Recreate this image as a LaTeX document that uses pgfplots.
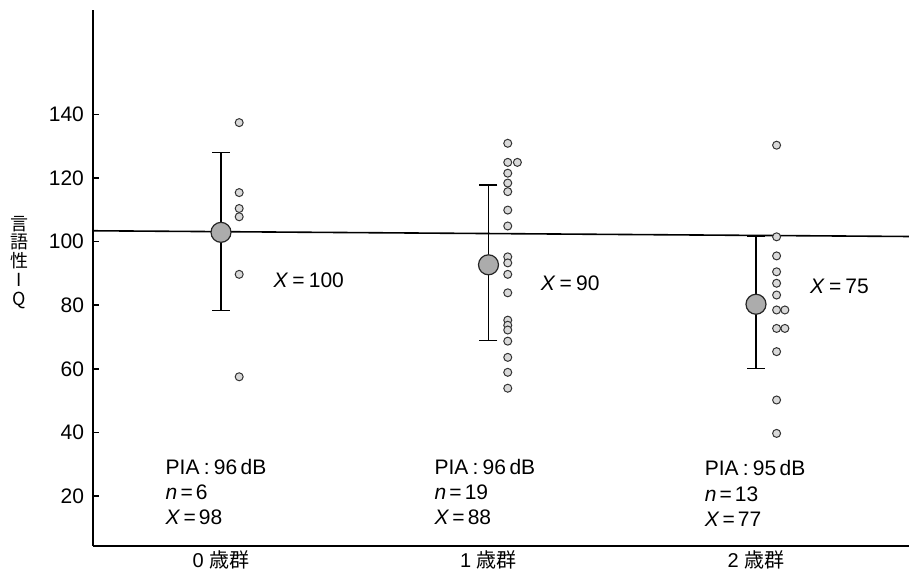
\documentclass[border=0pt]{standalone}
\usepackage{fontspec}
\setmainfont{Liberation Sans}
\newfontfamily\cjk{Noto Sans CJK JP}
\usepackage{pgfplots}
\pgfplotsset{compat=1.18}
\begin{document}
\begin{tikzpicture}[x=1pt,y=1pt]
\begin{axis}[
  at={(0,0)}, anchor=south west,
  scale only axis, width=408pt, height=268pt,
  xmin=-0.4785, xmax=2.572, ymin=4.3, ymax=172.8,
  axis x line=bottom, axis y line=left,
  axis line style={line width=1pt, -},
  /pgf/number format/assume math mode=true,
  ytick={20,40,60,80,100,120,140},
  yticklabels={20,40,60,80,100,120,140},
  tick align=inside, major tick length=3pt,
  ytick style={line width=0.8pt, black},
  y tick label style={font=\fontsize{10.5}{12}\selectfont, xshift=-1pt},
  xtick={0,1,2},
  xticklabels={{0 \cjk 歳群},{1 \cjk 歳群},{2 \cjk 歳群}},
  x tick style={draw=none},
  x tick label style={font=\fontsize{10}{12}\selectfont, yshift=1pt},
  clip=false,
]
% error bars (mean +/- SD)
\addplot[black, line width=0.6pt, mark=-, mark size=4.5pt,
  mark options={line width=0.6pt}, forget plot]
  coordinates {(0,78.3) (0,127.9)};
\addplot[black, line width=0.6pt, mark=-, mark size=4.5pt,
  mark options={line width=0.6pt}, forget plot]
  coordinates {(1,69.0) (1,117.8)};
\addplot[black, line width=0.6pt, mark=-, mark size=4.5pt,
  mark options={line width=0.6pt}, forget plot]
  coordinates {(2,60.1) (2,101.5)};
% reference line
\addplot[black, line width=0.8pt, no marks, forget plot]
  coordinates {(-0.4785,103.4) (2.572,101.6)};
% individual values
\addplot[only marks, mark=*, mark size=2pt,
  mark options={fill=gray!30, draw=black!80, line width=0.5pt}]
  coordinates {
    (0.068,137.4) (0.068,115.4) (0.068,110.4) (0.068,107.8) (0.068,89.7) (0.068,57.5)
    (1.072,130.9) (1.072,124.9) (1.108,124.9) (1.072,121.5) (1.072,118.4)
    (1.072,115.7) (1.072,109.9) (1.072,104.9) (1.072,95.2) (1.072,93.3)
    (1.072,89.7) (1.072,83.9) (1.072,75.3) (1.072,73.7) (1.072,72.2)
    (1.072,68.7) (1.072,63.6) (1.072,58.9) (1.072,53.9)
    (2.077,130.3) (2.077,101.5) (2.077,95.5) (2.077,90.5) (2.077,86.9)
    (2.077,83.2) (2.077,78.5) (2.108,78.5) (2.077,72.7) (2.108,72.7)
    (2.077,65.4) (2.077,50.2) (2.077,39.7)
  };
% group means
\addplot[only marks, mark=*, mark size=5pt,
  mark options={fill=gray!65, draw=black!85, line width=0.6pt}]
  coordinates {(0,102.9) (1,92.7) (2,80.3)};
% annotations
\node[anchor=west, font=\fontsize{10.5}{12}\selectfont] at (axis cs:0.170,87.9) {\textit{X}\hspace{0.2em}=\hspace{0.2em}100};
\node[anchor=west, font=\fontsize{10.5}{12}\selectfont] at (axis cs:1.169,87.0) {\textit{X}\hspace{0.2em}=\hspace{0.2em}90};
\node[anchor=west, font=\fontsize{10.5}{12}\selectfont] at (axis cs:2.176,86.0) {\textit{X}\hspace{0.2em}=\hspace{0.2em}75};
\node[anchor=west, align=left, font=\fontsize{10.5}{12.6}\selectfont] at (axis cs:-0.233,21.2)
  {PIA\hspace{0.2em}:\hspace{0.2em}96\,dB\\\textit{n}\hspace{0.15em}=\hspace{0.15em}6\\\textit{X}\hspace{0.15em}=\hspace{0.15em}98};
\node[anchor=west, align=left, font=\fontsize{10.5}{12.6}\selectfont] at (axis cs:0.772,21.2)
  {PIA\hspace{0.2em}:\hspace{0.2em}96\,dB\\\textit{n}\hspace{0.15em}=\hspace{0.15em}19\\\textit{X}\hspace{0.15em}=\hspace{0.15em}88};
\node[anchor=west, align=left, font=\fontsize{10.5}{12.6}\selectfont] at (axis cs:1.782,20.8)
  {PIA\hspace{0.2em}:\hspace{0.2em}95\,dB\\\textit{n}\hspace{0.15em}=\hspace{0.15em}13\\\textit{X}\hspace{0.15em}=\hspace{0.15em}77};
\node[align=center, font=\cjk\fontsize{9}{9.4}\selectfont] at (axis cs:-0.755,93.5)
  {言\\語\\性\\I\\Q};
\end{axis}
\pgfresetboundingbox
\path[use as bounding box] (-46.5,-16.5) rectangle (408,273);
\end{tikzpicture}
\end{document}
